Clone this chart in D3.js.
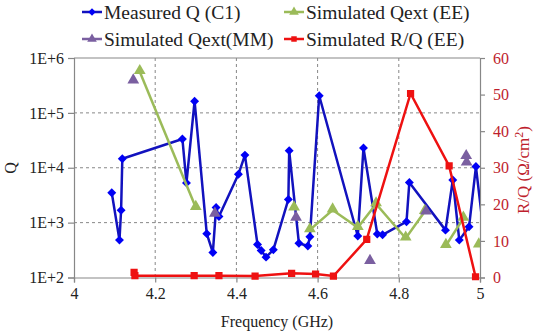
<!DOCTYPE html>
<html><head><meta charset="utf-8">
<script src="https://cdn.jsdelivr.net/npm/d3@7"></script>
<style>body{margin:0;background:#fff}svg{display:block}</style>
</head><body>
<svg id="c" width="538" height="332" font-family="Liberation Serif"></svg>
<script>
// ---- data ----
const measuredFreq = [4.093,4.112,4.116,4.119,4.267,4.277,4.297,4.327,4.342,4.350,4.357,4.405,4.421,4.452,4.461,4.473,4.491,4.528,4.530,4.554,4.576,4.581,4.604,4.699,4.713,4.747,4.760,4.819,4.826,4.915,4.933,4.949,4.973,4.990,5.010];
const measuredQ    = [3500,480,1680,14600,33500,5300,163000,630,285,1880,1290,7600,17000,400,310,235,320,2650,20500,420,375,555,205000,570,23000,620,600,1040,5400,730,6000,480,840,10500,560];

const eeFreq  = [4.162,4.300,4.542,4.581,4.637,4.699,4.744,4.817,4.864,4.916,4.959,4.997];
const eeQ     = [563000,1880,1840,736,1700,811,2190,520,1590,381,1200,390];
const eeGroup = [0,0,1,2,2,2,2,2,2,3,3,4];

const mmFreq = [4.146,4.347,4.547,4.729,4.867,4.966,4.967];
const mmQ    = [381000,1420,1200,195,1550,15900,12100];

const rqFreq = [4.148,4.150,4.296,4.357,4.446,4.536,4.595,4.639,4.721,4.829,4.924,4.989];
const rqVal  = [1.4,0.5,0.5,0.5,0.4,1.15,0.96,0.4,10.4,50.3,30.5,0.2];

const xTicks = [4,4.2,4.4,4.6,4.8,5];
const xTickLabels = ["4","4.2","4.4","4.6","4.8","5"];
const yTicks = [100,1000,10000,100000,1000000];
const yTickLabels = ["1E+2","1E+3","1E+4","1E+5","1E+6"];
const y2Ticks = [0,10,20,30,40,50,60];

const legendItems = ["Measured Q (C1)","Simulated Qext (EE)","Simulated Qext(MM)","Simulated R/Q (EE)"];

// ---- layout ----
const L=74,R=480,T=58,B=277.5;
const AX="#878787", RED_TXT="#BE1E2D";
const C_BLUE_L="#1212BE", C_BLUE="#0000F5", C_GREEN="#9BBB59", C_PURPLE="#7A5FA0", C_RED="#EE1111";
const FF='"Liberation Serif", "Times New Roman", Tinos, serif';

const svg=d3.select("#c");
const x=d3.scaleLinear().domain([4,5]).range([L,R]);
const y=d3.scaleLog().domain([100,1e6]).range([B,T]);
const y2=d3.scaleLinear().domain([0,60]).range([B,T]);

svg.append("defs").append("clipPath").attr("id","pc").append("rect")
  .attr("x",L).attr("y",T-10).attr("width",R-L).attr("height",B-T+20);

// gridlines
const g=svg.append("g");
g.selectAll(".hg").data(yTicks.filter(v=>v>100&&v<1e6)).join("line")
  .attr("x1",L).attr("x2",R).attr("y1",d=>y(d)).attr("y2",d=>y(d))
  .attr("stroke",AX).attr("stroke-width",1).attr("stroke-dasharray","3,3");
g.selectAll(".vg").data(xTicks.filter(v=>v>4&&v<5)).join("line")
  .attr("y1",T).attr("y2",B).attr("x1",d=>x(d)).attr("x2",d=>x(d))
  .attr("stroke",AX).attr("stroke-width",1).attr("stroke-dasharray","3,3");
g.append("line").attr("x1",L).attr("x2",R).attr("y1",y(1e6)).attr("y2",y(1e6)).attr("stroke",AX).attr("stroke-width",1.2);

// axes
const axL=d3.axisLeft(y).tickValues(yTicks).tickFormat((d,i)=>yTickLabels[i]).tickSize(6).tickPadding(4);
const axB=d3.axisBottom(x).tickValues(xTicks).tickFormat((d,i)=>xTickLabels[i]).tickSize(5).tickPadding(5);
const axR=d3.axisRight(y2).tickValues(y2Ticks).tickSize(5).tickPadding(8);
function style(sel,color){
  sel.attr("font-family",null).attr("font-size",null);
  sel.selectAll("path,line").attr("stroke",AX).attr("stroke-width",1.2);
  sel.selectAll("text").attr("fill",color).style("font-size","16px");
}
svg.append("g").attr("transform",`translate(${L},0)`).call(axL).call(s=>style(s,"#222"));
svg.append("g").attr("transform",`translate(0,${B})`).call(axB).call(s=>style(s,"#222"));
svg.append("g").attr("transform",`translate(${R},0)`).call(axR).call(s=>style(s,RED_TXT));

// axis titles
svg.append("text").attr("transform","translate(16,168) rotate(-90)").attr("text-anchor","middle")
  .style("font-size","16px").attr("fill","#222").text("Q");
const rt=svg.append("text").attr("transform","translate(529,170) rotate(-90)").attr("text-anchor","middle")
  .style("font-size","17px").attr("fill",RED_TXT);
rt.append("tspan").text("R/Q (Ω/cm");
rt.append("tspan").attr("dy","-6").style("font-size","12px").text("2");
rt.append("tspan").attr("dy","6").text(")");
svg.append("text").attr("x",277).attr("y",327).attr("text-anchor","middle")
  .style("font-size","16px").attr("fill","#222").text("Frequency (GHz)");

// markers
const tri=d3.symbol().type(d3.symbolTriangle).size(60);
const sq=d3.symbol().type(d3.symbolSquare).size(52);
const plot=svg.append("g").attr("clip-path","url(#pc)");

// measured
const mData=measuredFreq.map((f,i)=>({f,v:measuredQ[i]}));
plot.append("path").datum(mData).attr("fill","none").attr("stroke",C_BLUE_L).attr("stroke-width",2.5)
  .attr("stroke-linejoin","round").attr("d",d3.line().x(d=>x(d.f)).y(d=>y(d.v)));
plot.selectAll(".md").data(mData.filter(d=>d.f<=5)).join("path")
  .attr("transform",d=>`translate(${x(d.f)},${y(d.v)}) rotate(45)`).attr("d",d3.symbol().type(d3.symbolSquare).size(40)).attr("fill",C_BLUE);

// EE
const eData=eeFreq.map((f,i)=>({f,v:eeQ[i],g:eeGroup[i]}));
const groups=d3.groups(eData,d=>d.g);
plot.selectAll(".el").data(groups).join("path").attr("fill","none").attr("stroke",C_GREEN).attr("stroke-width",2.5)
  .attr("d",d=>d3.line().x(p=>x(p.f)).y(p=>y(p.v))(d[1]));
plot.selectAll(".em").data(eData).join("path")
  .attr("transform",d=>`translate(${x(d.f)},${y(d.v)-1})`).attr("d",tri).attr("fill",C_GREEN);

// MM
const mmData=mmFreq.map((f,i)=>({f,v:mmQ[i]}));
plot.selectAll(".mm").data(mmData).join("path")
  .attr("transform",d=>`translate(${x(d.f)},${y(d.v)-1})`).attr("d",tri).attr("fill",C_PURPLE);

// R/Q
const rData=rqFreq.map((f,i)=>({f,v:rqVal[i]}));
plot.append("path").datum(rData).attr("fill","none").attr("stroke",C_RED).attr("stroke-width",2.5)
  .attr("d",d3.line().x(d=>x(d.f)).y(d=>y2(d.v)));
plot.selectAll(".rq").data(rData).join("path")
  .attr("transform",d=>`translate(${x(d.f)},${y2(d.v)})`).attr("d",sq).attr("fill",C_RED);

// legend
const legPos=[[82,12],[284,12],[82,39],[284,39]];
const legColors=[C_BLUE,C_GREEN,C_PURPLE,C_RED];
const legLine=[C_BLUE_L,C_GREEN,C_PURPLE,C_RED];
const legSym=[d3.symbol().type(d3.symbolSquare).size(28),d3.symbol().type(d3.symbolTriangle).size(40),d3.symbol().type(d3.symbolTriangle).size(40),d3.symbol().type(d3.symbolSquare).size(30)];
const leg=svg.append("g");
legendItems.forEach((t,i)=>{
  const [lx,ly]=legPos[i];
  leg.append("line").attr("x1",lx).attr("x2",lx+20).attr("y1",ly).attr("y2",ly).attr("stroke",legLine[i]).attr("stroke-width",2.5);
  leg.append("path").attr("transform",`translate(${lx+10},${ly})`+(i==0?" rotate(45)":"")).attr("d",legSym[i]).attr("fill",legColors[i]);
  leg.append("text").attr("x",lx+22).attr("y",ly+6.5).style("font-size","19.5px").attr("fill","#222").text(t);
});

// apply serif font with highest priority
svg.selectAll("text").each(function(){ this.style.setProperty("font-family", FF, "important"); });
</script>
</body></html>
